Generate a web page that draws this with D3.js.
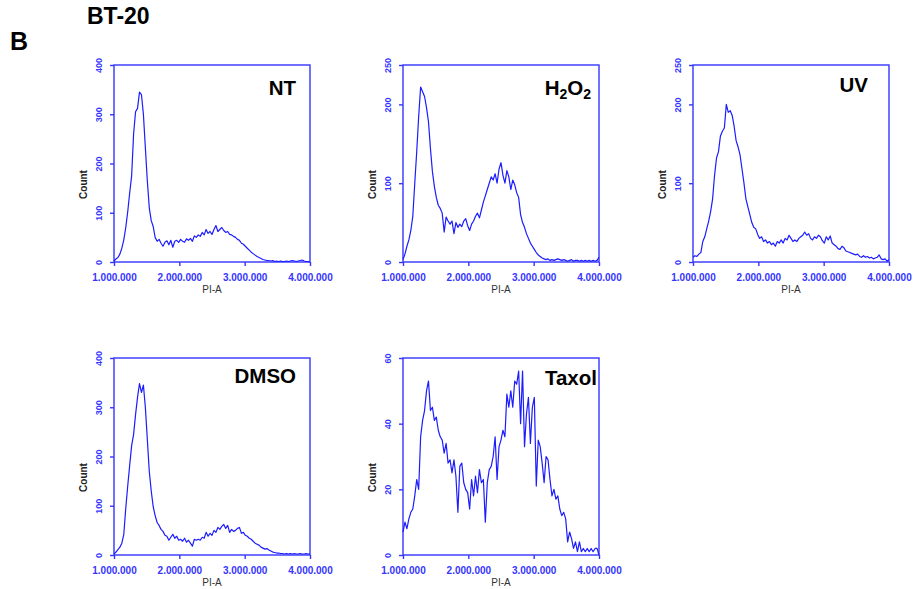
<!DOCTYPE html>
<html>
<head>
<meta charset="utf-8">
<script src="https://cdn.jsdelivr.net/npm/d3@7"></script>
<style>
  body { margin: 0; background: #ffffff; }
  svg { display: block; font-family: Arial, "Liberation Sans", sans-serif; }
</style>
</head>
<body>
<div id="chart"></div>
<script>
// PI-A channel positions (x 1000)
var bins = [
  1000,1030,1060,1090,1120,1150,1180,1210,1240,1270,
  1300,1330,1360,1390,1420,1450,1480,1510,1540,1570,
  1600,1630,1660,1690,1720,1750,1780,1810,1840,1870,
  1900,1930,1960,1990,2020,2050,2080,2110,2140,2170,
  2200,2230,2260,2290,2320,2350,2380,2410,2440,2470,
  2500,2530,2560,2590,2620,2650,2680,2710,2740,2770,
  2800,2830,2860,2890,2920,2950,2980,3010,3040,3070,
  3100,3130,3160,3190,3220,3250,3280,3310,3340,3370,
  3400,3430,3460,3490,3520,3550,3580,3610,3640,3670,
  3700,3730,3760,3790,3820,3850,3880,3910,3940,3970,
  4000
];

var countNT = [
  2,6,9,16,28,45,70,102,140,175,
  260,305,312,345,340,300,232,165,110,84,
  72,50,42,46,38,32,40,43,35,44,
  30,42,44,40,46,42,40,47,44,48,
  42,53,50,55,52,60,55,66,58,62,
  56,66,74,62,66,70,64,60,62,56,
  55,52,50,46,44,38,36,32,28,24,
  20,17,14,11,9,7,5,4,3,3,
  2,3,1,2,1,2,1,1,2,1,
  2,3,2,1,2,3,4,2,1,1,
  0
];

var countH2O2 = [
  3,10,20,28,40,58,100,140,185,222,
  216,210,196,178,144,115,96,82,72,68,
  62,38,57,52,48,52,36,50,44,48,
  45,52,55,46,40,48,52,58,62,56,
  66,76,84,92,100,108,104,112,100,118,
  126,110,100,116,108,92,104,98,88,82,
  60,50,44,36,30,24,20,16,12,9,
  7,5,4,3,4,2,3,2,3,4,
  3,2,3,2,1,2,3,1,2,2,
  1,2,1,2,1,2,1,2,1,2,
  6
];

var countUV = [
  6,8,7,10,12,26,32,42,52,64,
  80,110,132,140,160,166,170,200,190,192,
  186,172,154,146,136,118,100,80,70,60,
  50,44,42,35,30,32,26,28,24,26,
  22,24,20,26,24,28,24,30,28,34,
  30,26,28,26,30,32,34,38,34,36,
  30,28,32,30,34,32,27,24,32,28,
  33,24,22,20,17,16,20,18,14,13,
  12,11,10,9,10,7,6,8,6,7,
  5,6,4,5,6,9,4,3,4,1,
  3
];

var countDMSO = [
  2,6,11,16,24,42,95,140,182,222,
  245,285,320,348,330,345,300,235,170,130,
  98,80,66,60,52,48,40,38,30,36,
  42,34,38,30,32,28,34,26,30,24,
  18,32,30,32,30,36,34,46,38,44,
  40,50,46,56,52,58,62,54,60,46,
  52,48,50,54,56,44,46,40,38,34,
  32,28,24,22,20,16,14,12,13,10,
  8,6,5,4,4,3,3,2,3,2,
  3,2,3,2,2,3,2,2,3,2,
  2
];

var countTaxol = [
  7,10,8,11,13,14,18,23,20,36,
  41,44,50,53,44,45,41,42,38,36,
  35,31,34,28,29,25,29,24,13,27,
  28,22,20,19,14,23,18,24,19,26,
  22,23,10,22,26,27,30,36,23,33,
  35,38,36,49,45,50,45,53,52,56,
  40,56,33,43,48,34,45,48,21,35,
  33,28,22,30,29,23,18,20,17,18,
  14,12,13,11,4,7,5,2,4,1,
  4,1,2,1,2,1,2,1,2,2,
  0
];

var panelNames = ["NT", "H2O2", "UV", "DMSO", "Taxol"];
var panelCounts = [countNT, countH2O2, countUV, countDMSO, countTaxol];
var panelMax = [400, 250, 250, 400, 60];
var panelYTicks = [[0,100,200,300,400], [0,100,200,250], [0,100,200,250], [0,100,200,300,400], [0,20,40,60]];
var xTicks = [1000, 2000, 3000, 4000];

// layout
var W = 914, H = 589;
var pw = 196, ph = 197;
var panelPos = [[114, 65], [403, 65], [693, 65], [114, 358], [403, 358]];
var labelPos = [[-14, 30], [-8, 30], [-21, 27], [-14, 25], [-2, 27]];  // from top-right corner

var blue = "#3535ff";
var traceBlue = "#1c1cff";

var svg = d3.select("#chart").append("svg")
    .attr("width", W)
    .attr("height", H);

svg.append("rect").attr("width", W).attr("height", H).attr("fill", "#fff");

svg.append("text")
    .attr("x", 10).attr("y", 50)
    .text("B")
    .style("font-size", "25px")
    .style("font-weight", "bold")
    .style("fill", "#000");

svg.append("text")
    .attr("x", 87).attr("y", 24)
    .text("BT-20")
    .style("font-size", "23px")
    .style("font-weight", "bold")
    .style("fill", "#000");

function fmtX(d) {
    return d3.format(",")(d * 1000).replace(/,/g, ".");
}

panelNames.forEach(function(name, i) {
    var g = svg.append("g")
        .attr("transform", "translate(" + panelPos[i][0] + "," + panelPos[i][1] + ")");

    var x = d3.scaleLinear().domain([1000, 4000]).range([0, pw]);
    var y = d3.scaleLinear().domain([0, panelMax[i]]).range([ph, 0]);

    // frame
    g.append("rect")
        .attr("width", pw).attr("height", ph)
        .attr("fill", "none")
        .attr("stroke", blue)
        .attr("stroke-width", 1.4);

    var xa = g.append("g")
        .attr("transform", "translate(0," + ph + ")")
        .call(d3.axisBottom(x).tickValues(xTicks).tickSize(4).tickSizeOuter(0).tickFormat(fmtX));
    xa.select(".domain").remove();
    xa.selectAll("line").attr("stroke", blue).attr("stroke-width", 1.4);
    xa.selectAll("text")
        .attr("y", 18.5).attr("dy", 0)
        .style("font-size", "10px")
        .style("font-family", "Arial, 'Liberation Sans', sans-serif")
        .style("font-weight", "bold")
        .attr("fill", blue);

    var ya = g.append("g")
        .call(d3.axisLeft(y).tickValues(panelYTicks[i]).tickSize(4).tickSizeOuter(0));
    ya.select(".domain").remove();
    ya.selectAll("line").attr("stroke", blue).attr("stroke-width", 1.4);
    ya.selectAll("text")
        .attr("transform", "rotate(-90)")
        .attr("x", 0).attr("y", -12).attr("dy", 0)
        .attr("text-anchor", "middle")
        .style("font-size", "9px")
        .style("font-family", "Arial, 'Liberation Sans', sans-serif")
        .style("font-weight", "bold")
        .attr("fill", blue);

    // axis titles
    g.append("text")
        .attr("x", pw / 2).attr("y", ph + 31)
        .attr("text-anchor", "middle")
        .text("PI-A")
        .style("font-size", "10px")
        .style("fill", "#333");

    g.append("text")
        .attr("transform", "translate(-27," + (ph / 2 + 21) + ") rotate(-90)")
        .attr("text-anchor", "middle")
        .text("Count")
        .style("font-size", "10px")
        .style("font-weight", "bold")
        .style("fill", "#222");

    // histogram trace
    var line = d3.line()
        .x(function(d, k) { return x(bins[k]); })
        .y(function(d) { return y(d); });

    g.append("path")
        .datum(panelCounts[i])
        .attr("d", line)
        .attr("fill", "none")
        .attr("stroke", traceBlue)
        .attr("stroke-width", 1.2)
        .attr("stroke-linejoin", "round");

    // panel label
    var lab = g.append("text")
        .attr("x", pw + labelPos[i][0]).attr("y", labelPos[i][1])
        .attr("text-anchor", "end")
        .style("font-size", "20.5px")
        .style("font-weight", "bold")
        .style("fill", "#000");
    if (name == "H2O2") {
        lab.append("tspan").text("H");
        lab.append("tspan").text("2").attr("dy", 4).style("font-size", "14px");
        lab.append("tspan").text("O").attr("dy", -4);
        lab.append("tspan").text("2").attr("dy", 4).style("font-size", "14px");
    } else {
        lab.text(name);
    }
});
</script>
</body>
</html>
